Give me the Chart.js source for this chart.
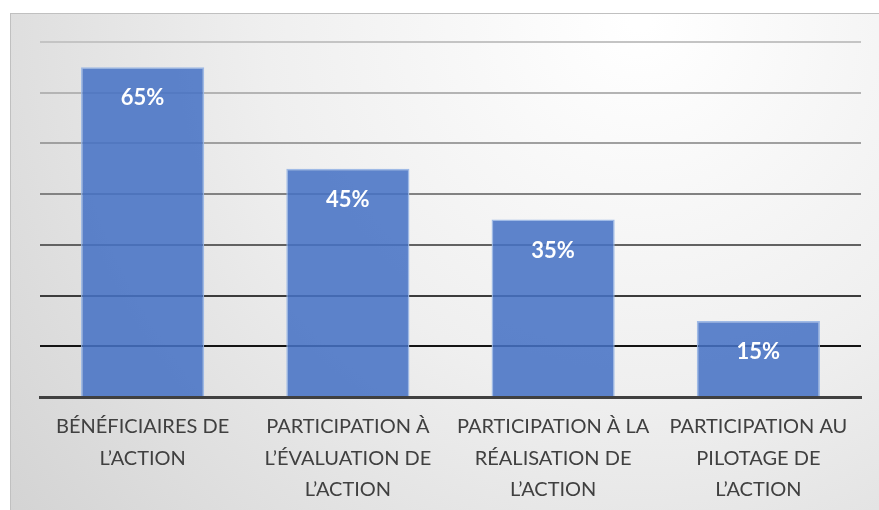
<!DOCTYPE html>
<html>
<head>
<meta charset="utf-8">
<script src="https://cdn.jsdelivr.net/npm/chart.js@4.4.1/dist/chart.umd.min.js"></script>
<style>
  html, body { margin: 0; padding: 0; background: #fff; }
  #wrap { width: 879px; height: 510px; position: relative; }
</style>
</head>
<body>
<div id="wrap"><canvas id="chart" width="879" height="510"></canvas></div>
<script>
const categories = [
  ["BÉNÉFICIAIRES DE", "L’ACTION"],
  ["PARTICIPATION À", "L’ÉVALUATION DE", "L’ACTION"],
  ["PARTICIPATION À LA", "RÉALISATION DE", "L’ACTION"],
  ["PARTICIPATION AU", "PILOTAGE DE", "L’ACTION"]
];
const values = [65, 45, 35, 15];
const valueLabels = ["65%", "45%", "35%", "15%"];
const yMax = 70;
const yStep = 10;

// grid colour goes from light grey at the top to black near the axis
const gridShades = { 10: "#141414", 20: "#3c3c3c", 30: "#626262", 40: "#828282", 50: "#a0a0a0", 60: "#b4b4b4", 70: "#c4c4c4" };

const frameBg = {
  id: "frameBg",
  beforeDraw(chart) {
    const ctx = chart.ctx;
    ctx.save();
    const g = ctx.createRadialGradient(640, 20, 10, 640, 20, 820);
    g.addColorStop(0, "#ffffff");
    g.addColorStop(0.45, "#efefef");
    g.addColorStop(1, "#d2d2d2");
    ctx.fillStyle = g;
    ctx.fillRect(10, 13, 880, 510);
    ctx.strokeStyle = "#c0c0c0";
    ctx.lineWidth = 1;
    ctx.strokeRect(10.5, 13.5, 880, 510);
    ctx.restore();
  }
};

const valueText = {
  id: "valueText",
  afterDatasetsDraw(chart) {
    const ctx = chart.ctx;
    const meta = chart.getDatasetMeta(0);
    ctx.save();
    ctx.fillStyle = "#ffffff";
    ctx.font = "bold 22px Lato";
    ctx.textAlign = "center";
    ctx.textBaseline = "middle";
    meta.data.forEach((bar, i) => {
      ctx.fillText(valueLabels[i], bar.x, bar.y + 31);
    });
    ctx.restore();
  }
};

new Chart(document.getElementById("chart"), {
  type: "bar",
  data: {
    labels: categories,
    datasets: [{
      data: values,
      backgroundColor: "rgba(70,114,196,0.87)",
      borderColor: "rgba(150,180,228,0.9)",
      borderWidth: 1.5,
      categoryPercentage: 1,
      barPercentage: 0.6
    }]
  },
  options: {
    responsive: false,
    animation: false,
    layout: { padding: { left: 40, right: 18, top: 42, bottom: 0 } },
    plugins: { legend: { display: false }, tooltip: { enabled: false } },
    scales: {
      x: {
        grid: { display: false, drawTicks: false },
        border: { color: "#404040", width: 3, z: 1 },
        ticks: {
          color: "#404040",
          padding: 14,
          maxRotation: 0,
          autoSkip: false,
          font: { family: "Lato", size: 20, lineHeight: 1.575 }
        },
        afterFit(scale) { scale.height = 113; }
      },
      y: {
        min: 0,
        max: yMax,
        ticks: { stepSize: yStep, display: false },
        border: { display: false },
        grid: {
          drawTicks: false,
          lineWidth: 2,
          color: (c) => gridShades[c.tick.value] || "transparent"
        },
        afterFit(scale) { scale.width = 0; }
      }
    }
  },
  plugins: [frameBg, valueText]
});
</script>
</body>
</html>
